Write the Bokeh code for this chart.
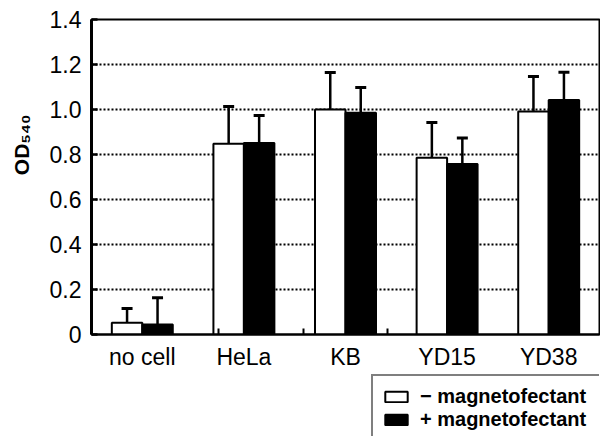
from bokeh.plotting import figure
from bokeh.layouts import column
from bokeh.models import (ColumnDataSource, FactorRange, Range1d, FixedTicker,
                          CategoricalAxis, Whisker, TeeHead, Legend, LegendItem)
from bokeh.transform import dodge
from bokeh.embed import file_html
from bokeh.resources import INLINE

# ---- data ----
categories = ["no cell", "HeLa", "KB", "YD15", "YD38"]
minus_vals = [0.052, 0.848, 1.000, 0.786, 0.991]
minus_err = [0.064, 0.165, 0.165, 0.156, 0.156]
plus_vals = [0.044, 0.851, 0.986, 0.758, 1.042]
plus_err = [0.119, 0.122, 0.112, 0.115, 0.124]
y_ticks = [0.0, 0.2, 0.4, 0.6, 0.8, 1.0, 1.2, 1.4]
grid_ticks = [0.2, 0.4, 0.6, 0.8, 1.0, 1.2]
legend_labels = ["\u2212 magnetofectant", "+ magnetofectant"]
y_label = "OD\u2085\u2084\u2080"

FONT = "Liberation Sans"

src = ColumnDataSource(dict(
    cat=categories,
    minus=minus_vals,
    minus_hi=[v + e for v, e in zip(minus_vals, minus_err)],
    plus=plus_vals,
    plus_hi=[v + e for v, e in zip(plus_vals, plus_err)],
))

p = figure(x_range=FactorRange(*categories), y_range=Range1d(0, 1.4),
           width=600, height=372, output_backend="svg", toolbar_location=None,
           x_axis_location=None, y_axis_location="left",
           min_border_left=91, min_border_right=1, min_border_top=19, min_border_bottom=36)

p.outline_line_color = "black"
p.outline_line_width = 2
p.background_fill_color = "white"
p.border_fill_color = "white"

# bars
bw = 0.3
bar_style = dict(width=bw, source=src, line_color="black", line_width=2)
r_minus = p.vbar(x=dodge("cat", -bw / 2, range=p.x_range), top="minus",
                 fill_color="white", **bar_style)
r_plus = p.vbar(x=dodge("cat", bw / 2, range=p.x_range), top="plus",
                fill_color="black", **bar_style)

# error bars (upper only)
for off, lo, hi in [(-bw / 2, "minus", "minus_hi"), (bw / 2, "plus", "plus_hi")]:
    w = Whisker(source=src, base=dodge("cat", off, range=p.x_range), lower=lo, upper=hi,
                lower_head=None,
                upper_head=TeeHead(size=11, line_width=3, line_color="black"),
                line_width=2.5, line_color="black", level="overlay")
    p.add_layout(w)

# y axis
ya = p.yaxis[0]
ya.ticker = FixedTicker(ticks=y_ticks, minor_ticks=[])
ya.major_label_overrides = {t: ("0" if t == 0 else f"{t:.1f}") for t in y_ticks}
ya.major_label_text_font = FONT
ya.major_label_text_font_size = "23px"
ya.major_label_text_color = "black"
ya.major_label_standoff = 10
ya.major_tick_in = 6
ya.major_tick_out = 0
ya.major_tick_line_width = 2.5
ya.minor_tick_line_color = None
ya.axis_line_width = 3
ya.axis_line_color = "black"
ya.axis_label = "\u00a0" * 11 + y_label
ya.axis_label_text_font = FONT
ya.axis_label_text_font_style = "bold"
ya.axis_label_text_font_size = "21px"
ya.axis_label_text_color = "black"
ya.axis_label_standoff = 14

# grid
p.xgrid.visible = False
p.ygrid.ticker = FixedTicker(ticks=grid_ticks)
p.ygrid.grid_line_color = "black"
p.ygrid.grid_line_dash = "2 2"
p.ygrid.grid_line_width = 2

# x axis: boundary ticks via a helper categorical range whose factors sit between categories
edge_factors = [f"edge{i}" for i in range(1, len(categories))]
p.extra_x_ranges = {"edges": FactorRange(factors=edge_factors, range_padding=1,
                                         range_padding_units="absolute")}
edge_axis = CategoricalAxis(x_range_name="edges",
                            major_tick_in=6, major_tick_out=0, major_tick_line_width=2,
                            major_label_text_font_size="0px", major_label_text_alpha=0,
                            major_label_standoff=0,
                            axis_line_width=2, axis_line_color="black")
p.add_layout(edge_axis, "below")

cat_axis = CategoricalAxis(axis_line_color=None, major_tick_line_color=None,
                           major_tick_in=0, major_tick_out=0,
                           major_label_text_font=FONT, major_label_text_font_size="23px",
                           major_label_text_color="black", major_label_standoff=9)
p.add_layout(cat_axis, "below")

# ---- legend strip below the chart ----
p2 = figure(x_range=p.x_range, y_range=p.y_range, width=600, height=64,
            output_backend="svg", toolbar_location=None,
            x_axis_location=None, y_axis_location=None, min_border=0)
p2.outline_line_color = None
p2.grid.visible = False
p2.background_fill_color = "white"
p2.border_fill_color = "white"
l_minus = p2.vbar(x=dodge("cat", -bw / 2, range=p.x_range), top="minus",
                  fill_color="white", visible=False, **bar_style)
l_plus = p2.vbar(x=dodge("cat", bw / 2, range=p.x_range), top="plus",
                 fill_color="black", visible=False, **bar_style)

legend = Legend(items=[LegendItem(label=legend_labels[0], renderers=[l_minus]),
                       LegendItem(label=legend_labels[1], renderers=[l_plus])],
                location=(280, -6), orientation="vertical",
                border_line_color="black", border_line_width=2,
                background_fill_color="white", background_fill_alpha=1,
                inactive_fill_alpha=0,
                label_text_font=FONT, label_text_font_style="bold",
                label_text_font_size="20px", label_text_color="black",
                glyph_width=28, glyph_height=13, label_height=20, label_width=240,
                padding=9, spacing=0, label_standoff=10, margin=0)
p2.add_layout(legend, "center")

layout = column(p, p2, spacing=0)

open("out.html", "w").write(file_html(layout, INLINE))
